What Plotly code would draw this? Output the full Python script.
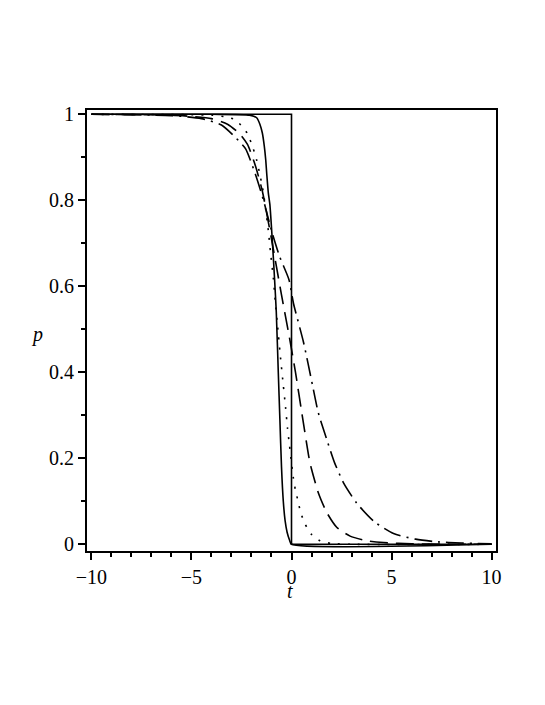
import plotly.graph_objects as go

# Step curve
step_t = [-10, 0, 0, 10]
step_p = [1, 1, 0, 0]

# Steep solid curve
solid_t = [-10, -4, -2.1, -1.74, -1.58, -1.46, -1.36, -1.29, -1.23, -1.16, -1.08, -0.95, -0.85,
           -0.76, -0.66, -0.58, -0.5, -0.41, -0.32, -0.22, -0.1, 0, 10]
solid_p = [1, 1, 0.998, 0.992, 0.977, 0.957, 0.926, 0.895, 0.857, 0.818, 0.79, 0.70, 0.62,
           0.54, 0.40, 0.29, 0.18, 0.10, 0.055, 0.028, 0.01, 0, 0]

# Dotted curve
dot_t = [-10, -5, -4, -3.3, -2.83, -2.42, -2.2, -1.91, -1.74, -1.58, -1.45, -1.35, -1.16, -1.04,
         -0.91, -0.83, -0.66, -0.54, -0.41, -0.3, -0.2, -0.1, 0.0, 0.09, 0.2, 0.34, 0.45, 0.68,
         1.0, 1.43, 2.0, 3.0, 10]
dot_p = [1, 0.999, 0.998, 0.994, 0.988, 0.969, 0.955, 0.92, 0.893, 0.86, 0.83, 0.80, 0.73, 0.675,
         0.62, 0.575, 0.49, 0.43, 0.37, 0.32, 0.27, 0.23, 0.19, 0.155, 0.125, 0.098, 0.075, 0.047,
         0.023, 0.008, 0.002, 0.0, 0]

# Dashed curve
dash_t = [-10, -6, -5, -4, -3.2, -2.6, -2.2, -1.8, -1.45, -1.2, -1.0, -0.75, -0.5, -0.3, -0.1,
          0.2, 0.5, 0.88, 1.0, 1.34, 1.76, 2.27, 2.93, 3.8, 4.6, 6.0, 8.0, 10]
dash_p = [1, 0.998, 0.995, 0.99, 0.977, 0.955, 0.93, 0.88, 0.82, 0.76, 0.71, 0.645, 0.58, 0.53, 0.48,
          0.40, 0.31, 0.20, 0.175, 0.12, 0.074, 0.039, 0.019, 0.008, 0.004, 0.001, 0.0, 0]

# Dash-dot curve
dd_t = [-10, -6, -4.5, -3.5, -2.8, -2.3, -1.8, -1.4, -1.0, -0.6, -0.13, 0.1, 0.6, 1.05, 1.34,
        1.76, 2.15, 2.6, 3.27, 4.15, 5.1, 6.2, 7.2, 8.5, 10]
dd_p = [1, 0.997, 0.99, 0.975, 0.946, 0.92, 0.86, 0.80, 0.73, 0.67, 0.616, 0.56, 0.47, 0.37, 0.306,
        0.244, 0.19, 0.143, 0.095, 0.052, 0.025, 0.012, 0.006, 0.003, 0.001]

x_ticks = [-10, -5, 0, 5, 10]
x_labels = ["\u221210", "\u22125", "0", "5", "10"]
y_ticks = [0, 0.2, 0.4, 0.6, 0.8, 1]
y_labels = ["0", "0.2", "0.4", "0.6", "0.8", "1"]

fig = go.Figure()
lw = 1.6
fig.add_trace(go.Scatter(x=step_t, y=step_p, mode="lines",
                         line=dict(color="black", width=lw)))
fig.add_trace(go.Scatter(x=solid_t, y=solid_p, mode="lines",
                         line=dict(color="black", width=lw, shape="spline", smoothing=0.6)))
fig.add_trace(go.Scatter(x=dot_t, y=dot_p, mode="lines",
                         line=dict(color="black", width=lw, dash="2px,8px", shape="spline", smoothing=0.6)))
fig.add_trace(go.Scatter(x=dash_t, y=dash_p, mode="lines",
                         line=dict(color="black", width=lw, dash="18px,8px", shape="spline", smoothing=0.6)))
fig.add_trace(go.Scatter(x=dd_t, y=dd_p, mode="lines",
                         line=dict(color="black", width=lw, dash="18px,6px,2px,6px", shape="spline", smoothing=0.6)))

font = dict(family="'Liberation Serif', 'Times New Roman', serif", size=20, color="black")

fig.update_layout(
    template="none",
    width=537, height=697,
    margin=dict(l=79, r=49, t=102, b=154, autoexpand=False),
    paper_bgcolor="white", plot_bgcolor="white",
    showlegend=False,
    font=font,
    xaxis=dict(range=[-10.22, 10.22], tickvals=x_ticks, ticktext=x_labels, automargin=False,
               showgrid=False, zeroline=False, showline=True, linecolor="black", linewidth=2,
               mirror=True, ticks="outside", ticklen=7, tickwidth=1.5, tickcolor="black",
               minor=dict(dtick=1, ticks="outside", ticklen=4, tickwidth=1.5, tickcolor="black"),
               tickfont=font),
    yaxis=dict(range=[-0.0156, 1.010], tickvals=y_ticks, ticktext=y_labels, automargin=False,
               showgrid=False, zeroline=False, showline=True, linecolor="black", linewidth=2,
               mirror=True, ticks="outside", ticklen=7, tickwidth=1.5, tickcolor="black",
               minor=dict(dtick=0.1, ticks="outside", ticklen=4, tickwidth=1.5, tickcolor="black"),
               tickfont=font),
    annotations=[
        dict(text="<i>t</i>", xref="paper", yref="paper", x=0.496, y=-0.09,
             xanchor="center", yanchor="middle", showarrow=False, font=font),
        dict(text="<i>p</i>", xref="paper", yref="paper", x=-0.122, y=0.49,
             xanchor="center", yanchor="middle", showarrow=False, font=font),
    ],
)

fig.write_html("out.html")
